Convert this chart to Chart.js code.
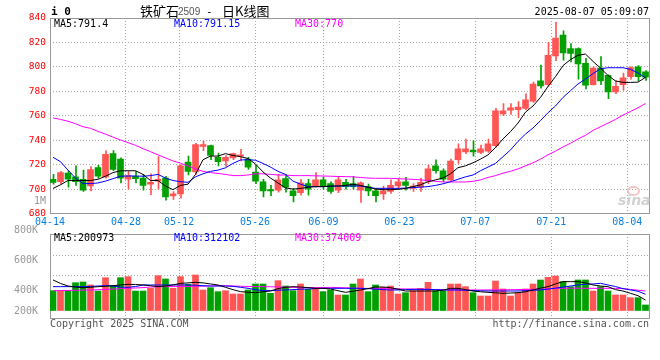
<!DOCTYPE html>
<html><head><meta charset="utf-8">
<script src="https://cdn.jsdelivr.net/npm/chart.js@4.4.0/dist/chart.umd.min.js"></script>
<style>
body{margin:0;background:#fff;}
#wrap{position:relative;width:660px;height:360px;overflow:hidden;background:#fff;}
canvas{position:absolute;left:0;top:0;}
.t{position:absolute;white-space:pre;line-height:1;font-family:"DejaVu Sans Mono",monospace;font-size:10px;}
</style></head><body>
<div id="wrap">
<canvas id="main" width="660" height="360"></canvas>
<canvas id="vol" width="660" height="360"></canvas>
<div class="t" style="left:51px;top:6px;font-weight:bold;font-size:11px;color:#000">i 0</div>
<div class="t" style="left:140px;top:4px;font-family:'Noto Sans CJK SC';font-size:13px;color:#000">铁矿石</div>
<div class="t" style="left:178px;top:7px;font-family:'Liberation Sans';font-size:10px;color:#555">2509</div>
<div class="t" style="left:206px;top:6px;font-size:11px;color:#000">-</div>
<div class="t" style="left:222px;top:4px;font-family:'Noto Sans CJK SC';font-size:13px;color:#000">日K线图</div>
<div class="t" style="right:11px;top:7px;color:#000">2025-08-07 05:09:07</div>
<div class="t" style="left:54px;top:19px;color:#000">MA5:791.4</div>
<div class="t" style="left:174px;top:19px;color:#0000FF">MA10:791.15</div>
<div class="t" style="left:295px;top:19px;color:#FF00FF">MA30:770</div>
<div class="t" style="left:54px;top:233px;color:#000">MA5:200973</div>
<div class="t" style="left:174px;top:233px;color:#0000FF">MA10:312102</div>
<div class="t" style="left:295px;top:233px;color:#FF00FF">MA30:374009</div>
<div class="t" style="right:614px;top:196px;color:#999">1M</div>
<div class="t" style="left:50px;top:319px;color:#555">Copyright 2025 SINA.COM</div>
<div class="t" style="right:11px;top:319px;color:#555">http://finance.sina.com.cn</div>
<div style="position:absolute;left:627px;top:186px;width:9px;height:6px;border:2px solid #f2c4c4;border-radius:50%;"></div>
<div class="t" style="left:618px;top:193px;font-family:'DejaVu Sans';font-style:italic;font-weight:bold;font-size:14px;color:#d2d2d2">sina</div>
</div>
<script>
// ---- data ----
const tickDates  = ['04-14','04-28','05-12','05-26','06-09','06-23','07-07','07-21','08-04'];
const tickDayIdx = [0,10,17,27,36,46,56,66,76];
const priceTicks = [680,700,720,740,760,780,800,820,840];
const volTickLabels = ['800K','600K','400K','200K'];

const open  = [708,706,713,710,708,702.5,717.5,710,729,724.5,708,710.5,709,704,706.5,709,694.3,696,722,714,735,735.5,726,723,725.5,727,724.5,714,706,699.5,699,708.5,698.5,697,704.5,702.5,707.5,704.5,699,705.5,704.5,699,702,698.5,696,698,702.5,706,700.5,701.5,706.5,719,715,707.5,724,730.5,732,730,731,735.5,761.5,764.5,765,766,772,788.5,785.5,809,826,815,815,803,785.5,799,793,779.5,785.5,792,800,796];
const high  = [712,714.5,715,719,715.5,718.5,719.5,731.5,731.5,725.5,714.5,714.5,712,712.5,726.5,710.5,698,720,727,737.5,739,736,729.5,727.5,729.5,732.5,726,719.5,708,703,712,712,700.5,708,708,713.5,710,706,709.5,708,710.5,706,704,700.5,702.5,707.5,708.5,709.5,704.5,709,719.5,724,716.5,724.5,737,741,739.5,736,741,766,770,770,771.5,778,787.5,801.5,820,836.5,829.5,819,815.5,807,800,808.5,793.5,788.5,795,800,801,797];
const low   = [704,704,701.5,703,698,698.5,709,709,715,705,700,705,699,695.5,700,691,691.5,692.5,711.5,712,731.5,724,719,718.5,724,723,716,704.5,693.5,694.5,697.5,697.5,689.5,695,695,701.5,700,696.5,697,700,700,689,694.5,689.5,691.5,696.5,701,699,698,698,704.5,713,706,706,721,729,727,729,730,734,760,761,758.5,765,771,782.5,784,805,805.5,804,790,782,785,785.5,774,778,781,790,788.5,789];
const close = [705.5,713.5,708,706,699,716,710.5,728.5,716,709,711,708.5,703,705.5,708,693.5,696,719,714.5,736.5,736.5,727.5,722.5,726,729,728,718,706.5,698.5,698.5,707.5,701.5,694.5,705,700,707.5,702.5,698,707.5,702,702,705,698.5,694.5,698.5,703,706,703,702.5,705.5,716.5,715,708,723,733,733,730.5,733,737,764,764,766.5,767,773,786,784.5,809.5,823.5,811.5,811,802.5,785,799,788.5,779.5,784,791,799.5,792,791.5];

const ma5  = [700.5,703.5,707,707,707,707,708,710.5,713.5,715,715,715,712,707,707,702.5,699.5,703,704,712,724,727,727,729,727.5,726.5,725,720.5,714,709,705,701,700,700.5,701.5,702,702,702.5,702.5,703,704,703,701.5,700,699.5,699.5,699.8,700.5,702,703.5,706,707.5,709,712.5,717.5,719,721.5,724.5,728,734,741,747,754,763,768,775,784,792,801,806,809.5,810.5,804.5,799,793,788.5,787.3,787.3,787.5,791.4];
const ma10 = [726,722.4,715.5,709,704.5,704.5,705,706.5,708.5,710.5,710.7,710.7,710.5,711,712,709,707,706,705.5,710,712.5,714.5,715.5,717.4,721,723.8,724,723.6,721,718,714.5,712,706.5,704,702,702,702,702.3,702.5,702.5,702.5,702.5,701.5,700.6,700.6,700.6,700.6,700.8,701.2,701.6,702,703,704.3,706,708,710,711.5,715,718,721,726.5,732,739,745,750,756,762.5,768,775,780.5,786,790,794.5,798.5,799.3,799.3,799.3,798,795,791.15];
const ma30 = [758.2,757,755.5,753.5,751,749.7,747.2,745,742.5,740.2,738,735.8,733,730.6,728,725.5,723,721.2,719,716.5,714.5,713.5,712.8,712,711,711,711.5,712.5,712.5,712,711.5,711.5,711,711,711,710.8,710.7,710.5,710.3,710.2,710,709.5,709,708.8,708.8,708.8,708.5,708.2,708,707.5,707,706.3,705.8,705.8,705.8,705.8,706.3,707.5,709.5,711,713,714.5,716.5,719,721.5,724.5,728,731,734.5,737.5,741,744,748,751,754,757,760.5,763.5,766.5,770];

const volume = [380,380,380,534,547,490,374,630,470,630,650,374,374,426,669,605,426,650,502,682,394,438,362,380,317,317,394,509,509,330,573,470,380,509,406,438,362,394,298,298,509,605,362,490,445,470,317,342,380,426,541,380,380,509,509,458,342,278,278,566,413,278,342,413,509,586,637,662,554,458,586,586,374,458,374,298,298,246,246,106].map(v => v * 1000);
const vma5  = [586,520,470,450,438,445,458,465,477,490,502,500,490,475,458,470,490,522,530,541,530,510,490,445,400,362,350,342,360,374,420,445,458,450,440,426,426,413,380,349,370,394,420,451,451,438,410,374,374,374,374,374,390,426,426,400,374,360,349,340,330,335,342,360,394,430,458,510,554,554,554,530,490,470,458,400,374,330,285,200.973].map(v => v * 1000);
const vma10 = [458,458,458,458,458,462,470,477,470,450,445,460,490,490,490,490,490,490,490,485,475,470,470,470,465,445,426,400,381,381,390,394,400,410,413,420,426,426,426,426,426,426,420,410,400,394,394,400,406,406,406,400,394,394,394,388,381,378,375,374,374,374,375,380,390,394,410,430,450,470,490,505,510,522,490,460,420,394,370,312.102].map(v => v * 1000);
const vma30 = [380,382,385,388,392,394,398,405,412,420,426,432,440,450,455,458,458,460,462,465,468,472,475,477,470,465,462,460,458,456,452,448,445,442,440,438,440,445,440,436,430,426,424,420,418,416,415,414,413,410,406,402,398,396,394,394,394,394,395,396,398,400,402,404,406,412,418,424,426,428,428,426,426,426,426,425,420,405,390,374.009].map(v => v * 1000);

// ---- layout / style constants ----
const RED = '#FF5555', GREEN = '#00A000', GRID = '#A8A8A8', FRAME = '#999999';
const SLOT = 80 / 79;      // date gridlines spread slightly wider than candle slots (as in the source)
const CENTER = 0.4;        // candle centre inside its slot
const N = close.length;
const colors = close.map((c, i) => c >= open[i] ? RED : GREEN);
const cx = i => i + CENTER;

const frame = {
  id: 'frame',
  beforeDatasetsDraw(chart) {
    const a = chart.chartArea, ctx = chart.ctx;
    ctx.save();
    ctx.strokeStyle = FRAME; ctx.lineWidth = 1;
    ctx.strokeRect(Math.floor(a.left) + 0.5, Math.floor(a.top) + 0.5,
                   Math.floor(a.right) - Math.floor(a.left) - 1, Math.floor(a.bottom) - Math.floor(a.top));
    ctx.restore();
  }
};

function xAxis(showLabels) {
  return {
    type: 'linear', min: 0, max: 80, offset: false,
    grid: { color: GRID, drawTicks: false, offset: false },
    border: { display: false, dash: [1, 2] },
    afterBuildTicks: s => { s.ticks = tickDayIdx.map(i => ({ value: i * SLOT })); },
    afterFit: s => { s.height = showLabels ? 20 : 0; },
    ticks: {
      display: showLabels, autoSkip: false, maxRotation: 0, padding: 3,
      color: '#0A80E0', font: { family: 'DejaVu Sans Mono', size: 10 },
      callback: (v, i) => tickDates[i]
    }
  };
}
function line(data, color) {
  return { type: 'line', data: data.map((v, i) => ({ x: cx(i), y: v })), borderColor: color,
           borderWidth: 1, pointRadius: 0, tension: 0, order: 0, fill: false };
}

Chart.defaults.animation = false;
Chart.defaults.font.family = 'DejaVu Sans Mono';

new Chart(document.getElementById('main'), {
  type: 'bar',
  data: { datasets: [
    line(ma5, '#000000'), line(ma10, '#0000FF'), line(ma30, '#FF00FF'),
    { type: 'bar', data: open.map((o, i) => ({ x: cx(i), y: [o, close[i]] })), backgroundColor: colors,
      barThickness: 6, grouped: false, minBarLength: 1, order: 1, borderWidth: 0 },
    { type: 'bar', data: low.map((l, i) => ({ x: cx(i) + 0.0667, y: [l, high[i]] })), backgroundColor: colors,
      barThickness: 1, grouped: false, order: 2, borderWidth: 0 }
  ]},
  options: {
    responsive: false, devicePixelRatio: 1, animation: false,
    layout: { padding: { left: 0, right: 10, top: 18, bottom: 126.5 } },
    plugins: { legend: { display: false }, tooltip: { enabled: false } },
    scales: {
      x: xAxis(true),
      y: {
        min: 680, max: 840,
        afterBuildTicks: s => { s.ticks = priceTicks.map(v => ({ value: v })); },
        afterFit: s => { s.width = 50; },
        grid: { color: GRID, drawTicks: false },
        border: { display: false, dash: [1, 2] },
        ticks: { color: '#FF0000', padding: 4, font: { family: 'DejaVu Sans Mono', size: 9.5 } }
      }
    }
  },
  plugins: [frame]
});

// volume panel
const volTickVals = [1468800, 892800, 303400, -86400];
new Chart(document.getElementById('vol'), {
  type: 'bar',
  data: { datasets: [
    line(vma5, '#000000'), line(vma10, '#0000FF'), line(vma30, '#FF00FF'),
    { type: 'bar', data: volume.map((v, i) => ({ x: cx(i), y: v })), backgroundColor: colors,
      barThickness: 6, grouped: false, order: 1, borderWidth: 0 }
  ]},
  options: {
    responsive: false, devicePixelRatio: 1, animation: false,
    layout: { padding: { left: 0, right: 10, top: 234, bottom: 42 } },
    plugins: { legend: { display: false }, tooltip: { enabled: false } },
    scales: {
      x: xAxis(false),
      y: {
        min: -144000, max: 1468800,
        afterBuildTicks: s => { s.ticks = volTickVals.map(v => ({ value: v })); },
        afterFit: s => { s.width = 50; },
        grid: { display: false },
        border: { display: false },
        ticks: { color: '#999999', padding: 4, labelOffset: -4, font: { family: 'DejaVu Sans Mono', size: 10 },
                 callback: (v, i) => volTickLabels[i] }
      },
      yg: {
        position: 'right', min: -144000, max: 1468800,
        afterBuildTicks: s => { s.ticks = [1052000, 681600].map(v => ({ value: v })); },
        afterFit: s => { s.width = 0; },
        grid: { color: GRID, drawTicks: false },
        border: { display: false, dash: [1, 2] },
        ticks: { display: false }
      }
    }
  },
  plugins: [frame]
});
</script>
</body></html>
